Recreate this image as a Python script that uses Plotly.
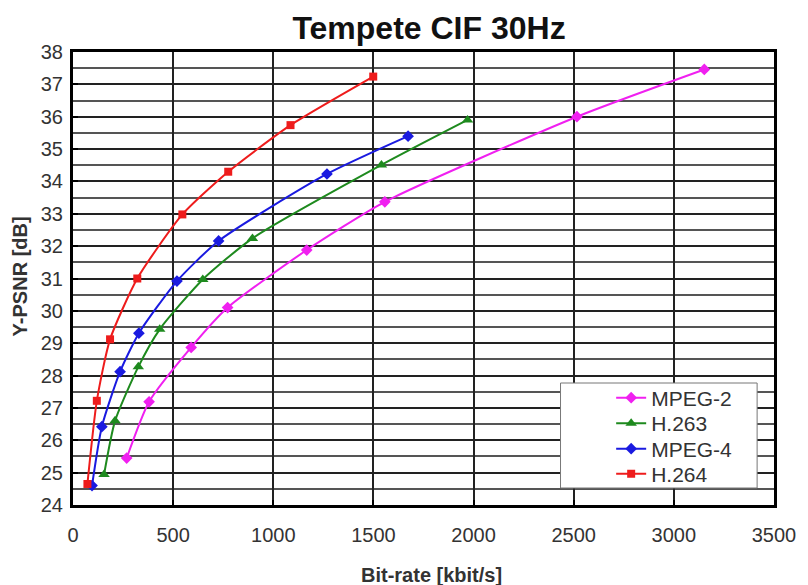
import plotly.graph_objects as go

# ---- data ----
mpeg2_rate = [268, 380, 590, 772, 1167, 1557, 2516, 3152]
mpeg2_psnr = [25.45, 27.19, 28.87, 30.10, 31.88, 33.37, 36.00, 37.46]

h263_rate = [155, 210, 326, 433, 648, 896, 1540, 1970]
h263_psnr = [24.94, 26.60, 28.27, 29.43, 30.97, 32.24, 34.51, 35.90]

mpeg4_rate = [95, 144, 235, 329, 519, 727, 1268, 1673]
mpeg4_psnr = [24.60, 26.42, 28.12, 29.31, 30.92, 32.16, 34.23, 35.40]

h264_rate = [72, 119, 185, 321, 546, 775, 1086, 1499]
h264_psnr = [24.65, 27.22, 29.12, 31.00, 32.98, 34.30, 35.74, 37.24]

series_names = ["MPEG-2", "H.263", "MPEG-4", "H.264"]
series_colors = ["#f020f0", "#1e8a1e", "#1a1ae0", "#ee1c1c"]
series_symbols = ["diamond", "triangle-up", "diamond", "square"]
series_sizes = [9, 10, 9, 8]

x_ticks = [0, 500, 1000, 1500, 2000, 2500, 3000, 3500]
y_ticks = list(range(24, 39))

rates = [mpeg2_rate, h263_rate, mpeg4_rate, h264_rate]
psnrs = [mpeg2_psnr, h263_psnr, mpeg4_psnr, h264_psnr]

# plot-area geometry in pixels (used only for placing text/legend)
L, R, T, B = 73, 779, 52, 505
PW, PH = R - L, B - T

def px(xp):
    return (xp - L) / PW

def py(yp):
    return (B - yp) / PH

legend_ids = ["legend", "legend2", "legend3", "legend4"]
legend_rows = [398, 423.5, 449, 474]

fig = go.Figure()
for i, name in enumerate(series_names):
    fig.add_trace(go.Scatter(
        x=rates[i], y=psnrs[i], name=name, mode="lines+markers",
        legend=legend_ids[i],
        line=dict(color=series_colors[i], width=2, shape="spline", smoothing=0.6),
        marker=dict(symbol=series_symbols[i], size=series_sizes[i], color=series_colors[i]),
    ))

font_family = "Liberation Sans, Arial, sans-serif"

layout_legends = {}
for i, lid in enumerate(legend_ids):
    layout_legends[lid] = dict(
        x=px(615), y=py(legend_rows[i]), xanchor="left", yanchor="middle",
        bgcolor="rgba(0,0,0,0)", borderwidth=0,
        font=dict(size=21, color="#333", family=font_family), itemwidth=30,
    )

fig.update_layout(
    width=808, height=585,
    margin=dict(l=L, r=808 - R, t=T, b=585 - B),
    paper_bgcolor="white", plot_bgcolor="white",
    font=dict(family=font_family, color="#222"),
    title=dict(text="<b>Tempete CIF 30Hz</b>", x=429/808, xanchor="center",
               y=1 - 28/585, yanchor="middle", font=dict(size=32, color="#111")),
    showlegend=True,
    **layout_legends,
)

fig.update_xaxes(
    range=[0, 3500], tickvals=x_ticks, ticktext=[str(v) for v in x_ticks],
    showgrid=True, gridcolor="#222", gridwidth=1.5,
    showline=True, linecolor="black", linewidth=3, mirror=True,
    ticks="inside", ticklen=5, tickwidth=2, tickcolor="black",
    tickfont=dict(size=20, color="#333"), ticklabelstandoff=10,
    zeroline=False,
)
fig.update_yaxes(
    range=[24, 38], tickvals=y_ticks, ticktext=[str(v) for v in y_ticks],
    showgrid=True, gridcolor="#222", gridwidth=1.5,
    minor=dict(dtick=0.5, showgrid=True, gridcolor="#555", gridwidth=1.5),
    showline=True, linecolor="black", linewidth=3, mirror=True,
    ticks="inside", ticklen=5, tickwidth=2, tickcolor="black",
    tickfont=dict(size=20, color="#333"), ticklabelstandoff=3,
    zeroline=False,
)

# legend frame
fig.add_shape(type="rect", xref="paper", yref="paper",
              x0=px(564), x1=px(762), y0=py(488), y1=py(383),
              line=dict(color="#777", width=1), fillcolor="white", layer="above")

# axis titles
fig.add_annotation(text="<b>Bit-rate [kbit/s]</b>", xref="paper", yref="paper",
                   x=px(434), y=py(575), xanchor="center", yanchor="middle",
                   showarrow=False, font=dict(size=20, color="#333"))
fig.add_annotation(text="<b>Y-PSNR [dB]</b>", xref="paper", yref="paper",
                   x=px(20), y=py(276), xanchor="center", yanchor="middle",
                   textangle=-90, showarrow=False, font=dict(size=20, color="#333"))

fig.write_html("out.html")
